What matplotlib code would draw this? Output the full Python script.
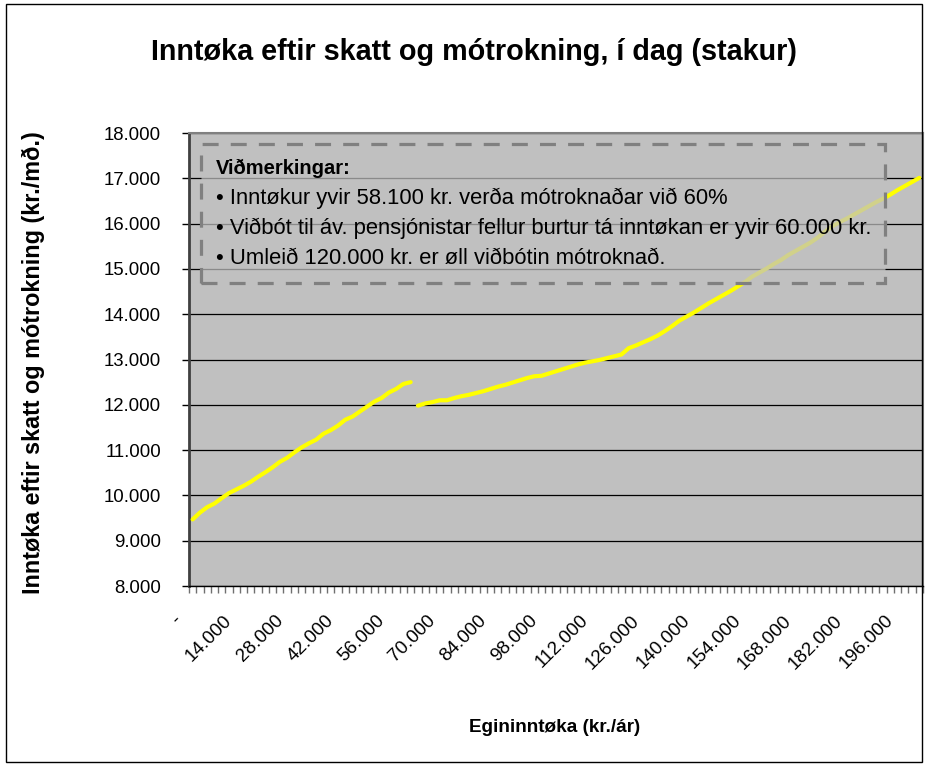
import numpy as np
import matplotlib
matplotlib.use('Agg')
import matplotlib.pyplot as plt
from matplotlib.patches import Rectangle
from matplotlib.transforms import ScaledTranslation

plt.rcParams['font.family'] = ['Liberation Sans', 'DejaVu Sans']

# ---- data -------------------------------------------------------------
# annual gross income categories (kr./ár)
income = list(range(0, 200001, 2000))

# monthly net income, before supplement cut-off (0 .. 60.000 kr.)
net_before = [9470, 9620, 9740, 9820, 9940, 10050, 10130, 10210, 10300, 10410,
              10510, 10620, 10740, 10830, 10950, 11060, 11150, 11230, 11360, 11440,
              11540, 11670, 11740, 11850, 11960, 12070, 12150, 12270, 12350, 12460,
              12500]

# monthly net income, after supplement cut-off (62.000 .. 200.000 kr.)
net_after = [11980, 12030, 12060, 12100, 12100, 12150, 12190, 12220, 12260, 12300,
             12350, 12400, 12440, 12490, 12540, 12590, 12630, 12640, 12690, 12740,
             12790, 12840, 12890, 12930, 12960, 12990, 13030, 13070, 13110, 13250,
             13310, 13380, 13450, 13530, 13630, 13740, 13860, 13950, 14040, 14140,
             14240, 14330, 14420, 14510, 14610, 14710, 14830, 14920, 15010, 15110,
             15200, 15310, 15400, 15490, 15580, 15690, 15820, 15940, 16030, 16110,
             16200, 16290, 16380, 16470, 16550, 16640, 16740, 16830, 16920, 17010]

y_ticks = list(range(8000, 18001, 1000))
label_every = 7

title = 'Inntøka eftir skatt og mótrokning, í dag (stakur)'
x_title = 'Egininntøka (kr./ár)'
y_title = 'Inntøka eftir skatt og mótrokning (kr./mð.)'
note_head = 'Viðmerkingar:'
note_lines = ['• Inntøkur yvir 58.100 kr. verða mótroknaðar við 60%',
              '• Viðbót til áv. pensjónistar fellur burtur tá inntøkan er yvir 60.000 kr.',
              '• Umleið 120.000 kr. er øll viðbótin mótroknað.']


def fmt(v):
    return '-' if v == 0 else f'{v:,}'.replace(',', '.')


# ---- figure -----------------------------------------------------------
W, H = 927, 767
fig = plt.figure(figsize=(W / 100, H / 100), dpi=100)
fig.patch.set_facecolor('white')

L, R, T, B = 189, 923, 133, 586
ax = fig.add_axes([L / W, 1 - B / H, (R - L) / W, (B - T) / H])
ax.set_facecolor('#C0C0C0')

n = len(income)
pos = np.arange(n)
before = np.full(n, np.nan)
before[:len(net_before)] = net_before
after = np.full(n, np.nan)
after[n - len(net_after):] = net_after

for series in (before, after):
    ax.plot(pos, series, color='#FFFF00', lw=3.0, solid_capstyle='round',
            solid_joinstyle='round', zorder=3)

ax.set_xlim(-0.5, n - 0.5)
ax.set_ylim(y_ticks[0], y_ticks[-1])

ax.set_yticks(y_ticks)
ax.set_yticklabels([fmt(v) for v in y_ticks], fontsize=13.4)
ax.tick_params(axis='y', direction='out', length=5, width=1, color='black', pad=15)
ax.yaxis.grid(True, color='black', lw=0.9)
ax.set_axisbelow(True)

major = pos[::label_every]
ax.set_xticks(major)
ax.set_xticklabels([fmt(income[i]) for i in major], fontsize=13.6)
ax.set_xticks(np.arange(-0.5, n, 1.0), minor=True)
ax.tick_params(axis='x', which='major', length=0, pad=0)
ax.tick_params(axis='x', which='minor', direction='out', length=5, width=1, color='#707070')
off = ScaledTranslation(-14 / 100, -32 / 100, fig.dpi_scale_trans)
for lbl in ax.get_xticklabels():
    lbl.set_rotation(45)
    lbl.set_ha('right')
    lbl.set_va('center')
    lbl.set_rotation_mode('anchor')
    lbl.set_transform(lbl.get_transform() + off)

for side in ('top', 'right'):
    ax.spines[side].set_color('#808080')
    ax.spines[side].set_linewidth(1.5)
ax.spines['left'].set_color('#404040')
ax.spines['left'].set_linewidth(2)
ax.spines['bottom'].set_color('black')
ax.spines['bottom'].set_linewidth(1)

# note box (semi-transparent)
bx0, by0, bx1, by1 = 201, 144, 885, 283
box = Rectangle((bx0 / W, 1 - by1 / H), (bx1 - bx0) / W, (by1 - by0) / H,
                transform=fig.transFigure, facecolor=(0.753, 0.753, 0.753, 0.72),
                edgecolor='#808080', lw=2.3, linestyle=(0, (5.0, 3.8)), zorder=5)
fig.add_artist(box)
fig.text(216 / W, 1 - 168 / H, note_head, fontsize=14.5, fontweight='bold',
         va='center', ha='left', zorder=6)
for k, line in enumerate(note_lines):
    fig.text(216 / W, 1 - (198 + 30.5 * k) / H, line, fontsize=15.8,
             va='center', ha='left', zorder=6)

# titles
fig.text(474 / W, 1 - 52 / H, title, fontsize=20.7, fontweight='bold',
         ha='center', va='center')
fig.text(555 / W, 1 - 727 / H, x_title, fontsize=13.6, fontweight='bold',
         ha='center', va='center')
fig.text(33 / W, 1 - 363 / H, y_title, fontsize=16.8, fontweight='bold',
         ha='center', va='center', rotation=90)

# chart border
fig.add_artist(Rectangle((6 / W, 5 / H), (W - 5 - 6) / W, (H - 4 - 5) / H,
                         transform=fig.transFigure, fill=False,
                         edgecolor='black', lw=1))

fig.savefig('out.png', dpi=100)
